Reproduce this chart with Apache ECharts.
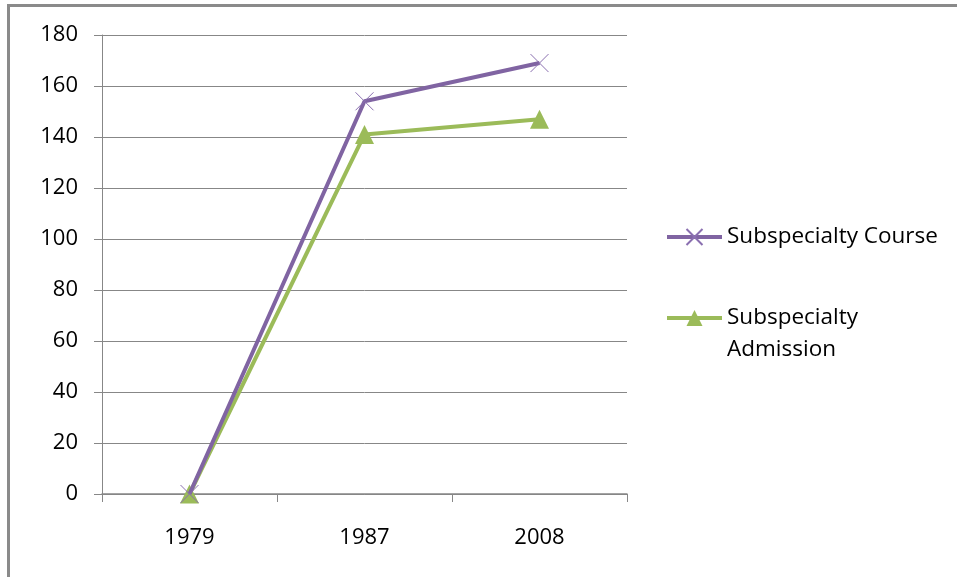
<!DOCTYPE html>
<html>
<head>
<meta charset="utf-8">
<script src="https://cdn.jsdelivr.net/npm/echarts@6/dist/echarts.min.js"></script>
<style>
html,body{margin:0;padding:0;background:#fff;}
#chart{width:957px;height:577px;}
</style>
</head>
<body>
<div id="chart"></div>
<script>
const categories = ['1979', '1987', '2008'];
const courseValues = [0, 154, 169];
const admissionValues = [0, 141, 147];
const seriesNames = ['Subspecialty Course', 'Subspecialty Admission'];
const yTicks = { min: 0, max: 180, interval: 20 };

const FONT = '"Open Sans", sans-serif';
const purple = '#8064A2';
const green = '#9BBB59';
const axisGray = '#878787';

const chart = echarts.init(document.getElementById('chart'));
chart.setOption({
  animation: false,
  backgroundColor: '#fff',
  graphic: [{
    type: 'rect',
    shape: { x: 8.5, y: 5.5, width: 1200, height: 1200 },
    style: { fill: 'none', stroke: '#8a8a8a', lineWidth: 3 },
    silent: true
  }],
  grid: { left: 102, right: 330, top: 35, bottom: 83 },
  legend: {
    orient: 'vertical',
    left: 665,
    top: 221,
    padding: 0,
    itemGap: 17,
    itemWidth: 55,
    itemHeight: 20,
    data: seriesNames,
    lineStyle: { width: 4 },
    formatter: function (name) {
      return name === 'Subspecialty Admission' ? '\nSubspecialty\nAdmission' : name;
    },
    textStyle: { fontFamily: FONT, fontSize: 22.5, color: '#000', lineHeight: 32 }
  },
  xAxis: {
    type: 'category',
    data: categories,
    boundaryGap: true,
    axisLine: { lineStyle: { color: axisGray, width: 1.5 } },
    axisTick: { show: true, length: 8, lineStyle: { color: axisGray } },
    axisLabel: { fontFamily: FONT, fontSize: 22, color: '#000', margin: 33 }
  },
  yAxis: {
    type: 'value',
    min: yTicks.min,
    max: yTicks.max,
    interval: yTicks.interval,
    axisLine: { show: true, lineStyle: { color: axisGray, width: 1 } },
    axisTick: { show: true, length: 8, lineStyle: { color: axisGray } },
    splitLine: { lineStyle: { color: axisGray, width: 1 } },
    axisLabel: { fontFamily: FONT, fontSize: 22, color: '#000', margin: 24 }
  },
  series: [
    {
      name: seriesNames[0],
      type: 'line',
      data: courseValues,
      symbol: 'path://M0,0L10,10M10,0L0,10',
      symbolSize: 18,
      showAllSymbol: true,
      lineStyle: { color: purple, width: 4 },
      itemStyle: { color: 'none', borderColor: '#8a6fb0', borderWidth: 1 },
      z: 3
    },
    {
      name: seriesNames[1],
      type: 'line',
      data: admissionValues,
      symbol: 'triangle',
      symbolSize: 19,
      showAllSymbol: true,
      lineStyle: { color: green, width: 4 },
      itemStyle: { color: green },
      z: 2
    }
  ]
});
</script>
</body>
</html>
